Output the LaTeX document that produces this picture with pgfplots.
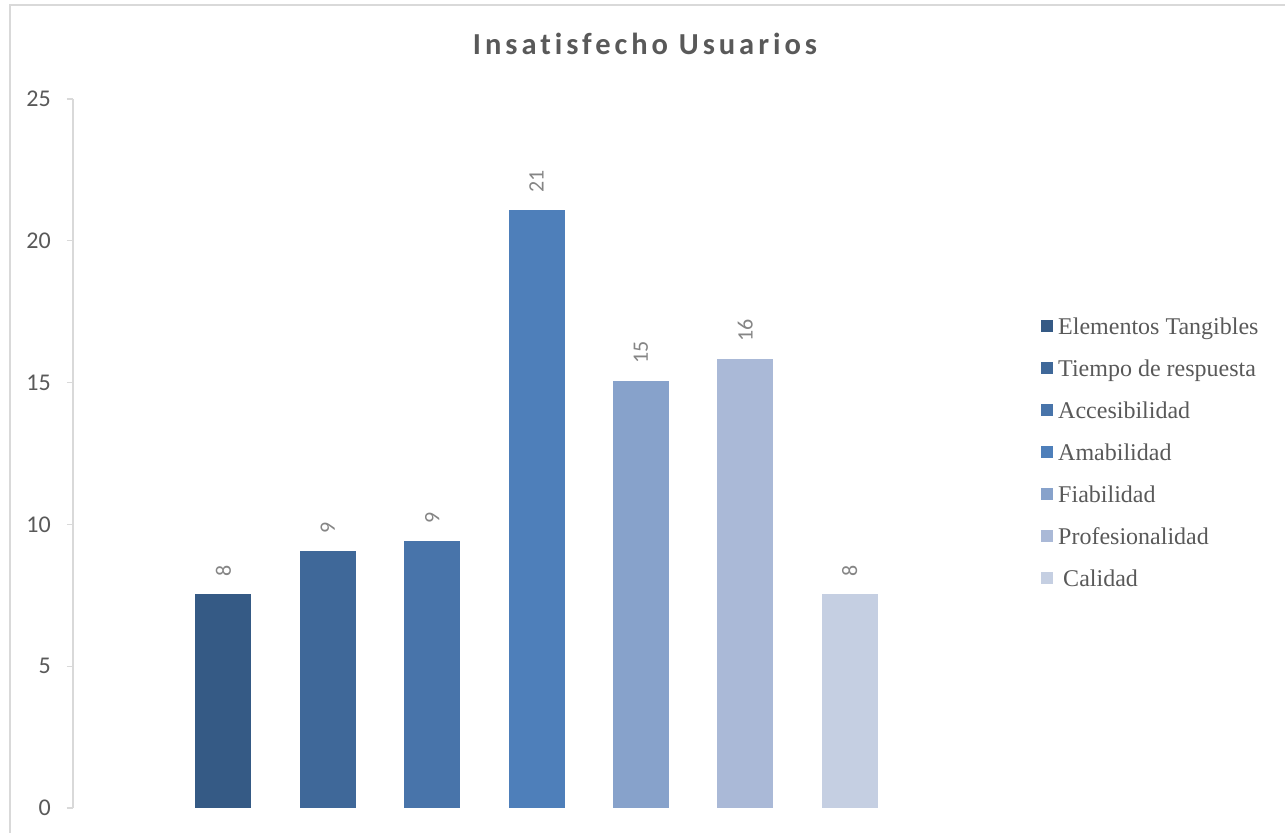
\documentclass[border=0pt]{standalone}
\usepackage{pgfplots}
\pgfplotsset{compat=1.18}
\usepackage{fontspec}
\setmainfont{Carlito}
\newfontfamily\legendfont{Liberation Serif}
\newfontfamily\titlefont[LetterSpace=13, Ligatures={NoCommon}]{Carlito}

\definecolor{c1}{HTML}{355A85}
\definecolor{c2}{HTML}{3F6899}
\definecolor{c3}{HTML}{4874AA}
\definecolor{c4}{HTML}{4E7FBA}
\definecolor{c5}{HTML}{87A2CB}
\definecolor{c6}{HTML}{AAB9D7}
\definecolor{c7}{HTML}{C5CFE2}
\definecolor{txt}{HTML}{595959}
\definecolor{lbl}{HTML}{858585}
\definecolor{axisgray}{HTML}{D9D9D9}

\begin{document}
\begin{tikzpicture}
% chart frame (left and top edges)
\draw[axisgray, line width=1.3bp] (10bp,0bp) -- (10bp,828bp) -- (1285bp,828bp);

% title
\node[anchor=base, text=txt, font=\titlefont\bfseries\fontsize{30.5bp}{36bp}\selectfont]
  at (645bp,778bp) {Insatisfecho Usuarios};

\begin{axis}[
  at={(73bp,25bp)}, anchor=south west,
  scale only axis, width=926bp, height=709bp,
  ybar, bar width=56bp,
  xmin=-1.44, xmax=7.43,
  ymin=0, ymax=25,
  ytick={0,5,10,15,20,25},
  xtick=\empty,
  axis x line=none,
  axis y line*=left,
  y axis line style={axisgray, line width=1.3bp},
  tick align=outside,
  major tick length=6bp,
  ytick style={axisgray, line width=1.3bp},
  yticklabel style={text=txt, font=\fontsize{24bp}{28bp}\selectfont, inner sep=0pt, xshift=-16bp},
  /pgf/number format/assume math mode=true,
  nodes near coords,
  every node near coord/.append style={
    rotate=90, anchor=west, inner xsep=17bp, inner ysep=0pt,
    text=lbl, font=\fontsize{22bp}{26bp}\selectfont,
    /pgf/number format/fixed, /pgf/number format/precision=0},
  legend style={
    at={(1.0454,0.6925)}, anchor=north west,
    draw=none, fill=none, inner sep=0pt,
    font=\legendfont\fontsize{24bp}{28bp}\selectfont, text=txt,
    row sep=20bp, column sep=0pt,
    nodes={inner sep=0pt, text height=17bp, text depth=5bp, text=txt},
  },
  legend cell align=left,
  legend image code/.code={\fill[#1] (0bp,-4.1bp) rectangle (12bp,7.9bp);},
  /tikz/every odd column/.append style={column sep=5bp},
]
\addplot[fill=c1, draw=none, bar shift=0pt] coordinates {(0,7.55)};
\addplot[fill=c2, draw=none, bar shift=0pt] coordinates {(1,9.06)};
\addplot[fill=c3, draw=none, bar shift=0pt] coordinates {(2,9.41)};
\addplot[fill=c4, draw=none, bar shift=0pt] coordinates {(3,21.08)};
\addplot[fill=c5, draw=none, bar shift=0pt] coordinates {(4,15.06)};
\addplot[fill=c6, draw=none, bar shift=0pt] coordinates {(5,15.83)};
\addplot[fill=c7, draw=none, bar shift=0pt] coordinates {(6,7.55)};
\legend{Elementos Tangibles, Tiempo de respuesta, Accesibilidad, Amabilidad,
  Fiabilidad, Profesionalidad, \hspace{5bp}Calidad}
\end{axis}

\pgfresetboundingbox
\useasboundingbox (0bp,0bp) rectangle (1285bp,833bp);
\end{tikzpicture}
\end{document}
